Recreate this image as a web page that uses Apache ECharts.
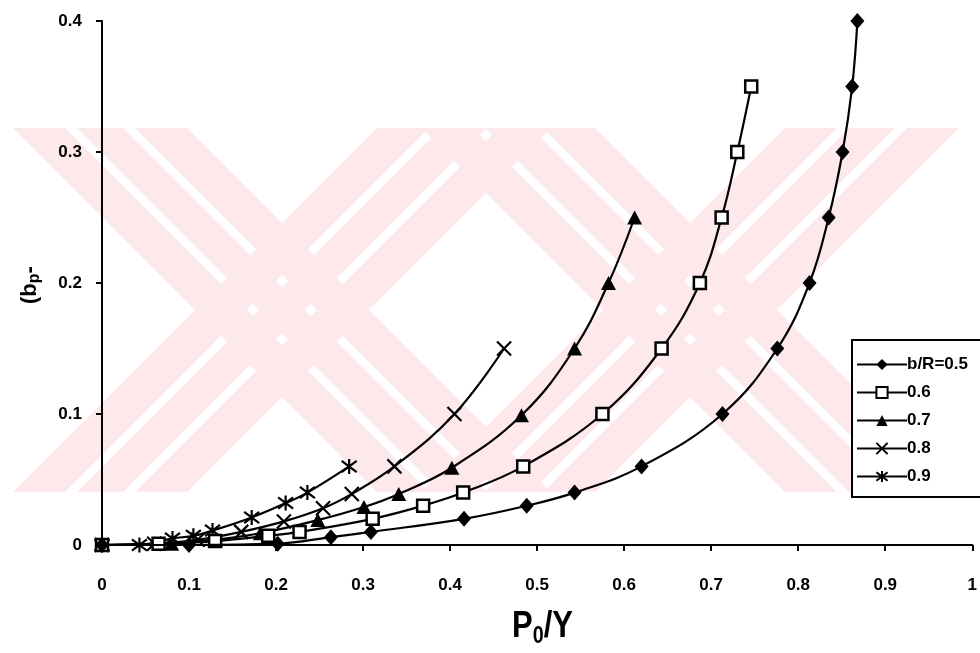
<!DOCTYPE html>
<html><head><meta charset="utf-8">
<script src="https://cdn.jsdelivr.net/npm/echarts@6/dist/echarts.min.js"></script>
<style>html,body{margin:0;padding:0;background:#fff}#c{width:980px;height:653px}</style>
</head><body><div id="c"></div>
<script>
// ---- data ----
const seriesNames = ['b/R=0.5', '0.6', '0.7', '0.8', '0.9'];
const xTicks = ['0','0.1','0.2','0.3','0.4','0.5','0.6','0.7','0.8','0.9','1'];
const yTicks = ['0','0.1','0.2','0.3','0.4'];

const x05 = [0, 0.100, 0.202, 0.263, 0.309, 0.416, 0.488, 0.543, 0.620, 0.713, 0.776, 0.813, 0.835, 0.851, 0.862, 0.868];
const y05 = [0, 0.000, 0.001, 0.006, 0.010, 0.020, 0.030, 0.040, 0.060, 0.100, 0.150, 0.200, 0.250, 0.300, 0.350, 0.400];

const x06 = [0, 0.065, 0.130, 0.191, 0.227, 0.311, 0.369, 0.415, 0.484, 0.575, 0.643, 0.687, 0.712, 0.730, 0.746];
const y06 = [0, 0.001, 0.003, 0.007, 0.010, 0.020, 0.030, 0.040, 0.060, 0.100, 0.150, 0.200, 0.250, 0.300, 0.350];

const x07 = [0, 0.080, 0.130, 0.182, 0.248, 0.301, 0.341, 0.402, 0.482, 0.543, 0.582, 0.612];
const y07 = [0, 0.001, 0.004, 0.009, 0.019, 0.029, 0.039, 0.059, 0.099, 0.150, 0.200, 0.250];

const x08 = [0, 0.060, 0.110, 0.160, 0.209, 0.254, 0.287, 0.336, 0.405, 0.462];
const y08 = [0, 0.001, 0.004, 0.010, 0.018, 0.028, 0.039, 0.060, 0.100, 0.150];

const x09 = [0, 0.043, 0.081, 0.105, 0.127, 0.172, 0.211, 0.236, 0.284];
const y09 = [0, 0.000, 0.005, 0.007, 0.011, 0.021, 0.032, 0.040, 0.060];

const xs = [x05, x06, x07, x08, x09];
const ys = [y05, y06, y07, y08, y09];

// ---- styling ----
const FONT = '"Liberation Sans", Arial, sans-serif';
const symbols = [
  {symbol: 'diamond', size: [14, 16], item: {color: '#000', borderColor: '#000', borderWidth: 0}},
  {symbol: 'rect', size: 12, item: {color: '#fff', borderColor: '#000', borderWidth: 2.5}},
  {symbol: 'triangle', size: [15, 14], item: {color: '#000', borderColor: '#000', borderWidth: 0}},
  {symbol: 'path://M0,0L10,10M10,0L0,10', size: 14, item: {color: 'rgba(0,0,0,0)', borderColor: '#000', borderWidth: 2.2}},
  {symbol: 'path://M5,-1L5,11M0.5,0.5L9.5,9.5M9.5,0.5L0.5,9.5', size: 15, item: {color: 'rgba(0,0,0,0)', borderColor: '#000', borderWidth: 2.2}}
];

const series = seriesNames.map((name, i) => ({
  name: name,
  type: 'line',
  smooth: 0.4,
  clip: false,
  data: xs[i].map((x, j) => [x, ys[i][j]]),
  symbol: symbols[i].symbol,
  symbolSize: symbols[i].size,
  showAllSymbol: true,
  lineStyle: {color: '#000', width: 2.2},
  itemStyle: symbols[i].item,
  emphasis: {disabled: true},
  z: 10 - i
}));

// ---- faint pink background watermark (decoration, pixel space) ----
const WM_TOP = 128, WM_BOT = 492, WM_COLOR = '#fde8ec';
const wmCenters = [282, 690];          // x of each big "X" (y centre = 310)
const subBands = [[-87, -35], [-23, 23], [35, 87]];
const wm = [];
wmCenters.forEach(cx => {
  const cy = (WM_TOP + WM_BOT) / 2;
  subBands.forEach(([o1, o2]) => {
    const a = cx - cy + o1, b = cx - cy + o2;
    wm.push([[a + WM_TOP, WM_TOP], [b + WM_TOP, WM_TOP], [b + WM_BOT, WM_BOT], [a + WM_BOT, WM_BOT]]);
    const c = cx + cy + o1, d = cx + cy + o2;
    wm.push([[c - WM_TOP, WM_TOP], [d - WM_TOP, WM_TOP], [d - WM_BOT, WM_BOT], [c - WM_BOT, WM_BOT]]);
  });
});
const wmGraphics = wm.map(pts => ({
  type: 'polygon', silent: true, z: -10,
  shape: {points: pts},
  style: {fill: WM_COLOR}
}));

const chart = echarts.init(document.getElementById('c'), null, {renderer: 'canvas'});
chart.setOption({
  backgroundColor: '#fff',
  animation: false,
  grid: {left: 102, right: 0, top: 21, bottom: 108, containLabel: false},
  xAxis: {
    type: 'value', min: 0, max: 1, interval: 0.1,
    axisLine: {show: true, lineStyle: {color: '#000', width: 2}},
    axisTick: {show: true, inside: false, length: 6, lineStyle: {color: '#000', width: 2}},
    splitLine: {show: false},
    axisLabel: {
      margin: 32, color: '#000', fontFamily: FONT, fontWeight: 'bold', fontSize: 17,
      formatter: (v) => xTicks[Math.round(v * 10)]
    }
  },
  yAxis: {
    type: 'value', min: 0, max: 0.4, interval: 0.1,
    axisLine: {show: true, lineStyle: {color: '#000', width: 2}},
    axisTick: {show: true, inside: false, length: 6, lineStyle: {color: '#000', width: 2}},
    splitLine: {show: false},
    axisLabel: {
      margin: 20, color: '#000', fontFamily: FONT, fontWeight: 'bold', fontSize: 17,
      formatter: (v) => yTicks[Math.round(v * 10)]
    }
  },
  legend: {
    orient: 'vertical', left: 852, top: 340,
    backgroundColor: '#fff',
    borderColor: '#000', borderWidth: 2, borderRadius: 0,
    padding: [16, 30, 12, 4],
    itemWidth: 50, itemHeight: 14, itemGap: 11,
    textStyle: {color: '#000', fontFamily: FONT, fontWeight: 'bold', fontSize: 17, padding: [0, 0, 0, -5]},
    data: seriesNames
  },
  graphic: wmGraphics.concat([
    {
      type: 'text', x: 512, y: 606, scaleX: 0.86, z: 100,
      style: {
        text: '{b|P}{s|0}{b|/Y}',
        fill: '#000',
        rich: {
          b: {fontFamily: FONT, fontWeight: 'bold', fontSize: 36, lineHeight: 42, fill: '#000'},
          s: {fontFamily: FONT, fontWeight: 'bold', fontSize: 23, lineHeight: 42, fill: '#000', padding: [20, 0, 0, 0]}
        }
      }
    },
    {
      type: 'text', x: 17, y: 304, rotation: Math.PI / 2, z: 100,
      style: {
        text: '{b|(b}{s|p}{b|-}',
        fill: '#000',
        rich: {
          b: {fontFamily: FONT, fontWeight: 'bold', fontSize: 22, lineHeight: 26, fill: '#000'},
          s: {fontFamily: FONT, fontWeight: 'bold', fontSize: 16, lineHeight: 26, fill: '#000', padding: [9, 0, 0, 0]}
        }
      }
    }
  ]),
  series: series
});
</script></body></html>
